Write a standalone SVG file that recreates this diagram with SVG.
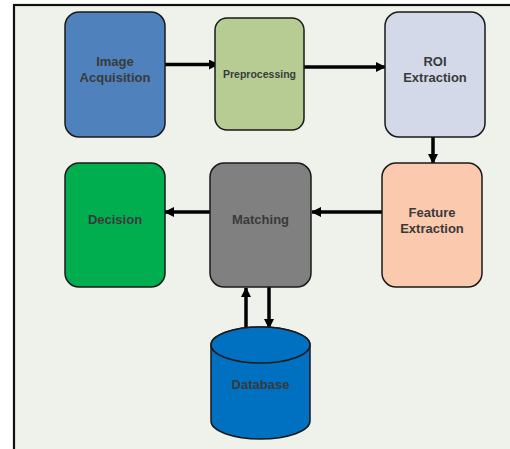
<svg xmlns="http://www.w3.org/2000/svg" width="510" height="449" viewBox="0 0 510 449">
<style>
.box{stroke:#1a1a1a;stroke-width:1.5}
.t{font-family:"Liberation Sans",Arial,sans-serif;font-weight:bold;font-size:13px;fill:#3a3a3a;text-anchor:middle}
.c{stroke:#000;stroke-width:3.5;fill:none;marker-end:url(#ah)}
</style>
<defs>
<marker id="ah" markerWidth="10" markerHeight="10" viewBox="0 0 10 10" refX="9" refY="5" markerUnits="userSpaceOnUse" orient="auto">
<path d="M0,0 L10,5 L0,10 Z" fill="#000"/>
</marker>
</defs>
<rect x="0" y="0" width="510" height="449" fill="#ffffff"/>
<rect x="14" y="5" width="510" height="460" fill="#eff2ea" stroke="#111" stroke-width="2.2"/>
<g id="connectors">
<line class="c" x1="165" y1="64.5" x2="218" y2="64.5"/>
<line class="c" x1="304" y1="67" x2="385" y2="67"/>
<line class="c" x1="433" y1="137" x2="433" y2="163"/>
<line class="c" x1="382" y1="212" x2="312" y2="212"/>
<line class="c" x1="210" y1="212" x2="165" y2="212"/>
<line class="c" x1="246" y1="327" x2="246" y2="288"/>
<line class="c" x1="269" y1="287" x2="269" y2="328"/>
</g>
<g id="image-acquisition">
<rect class="box" x="65" y="12" width="100" height="125" rx="14" fill="#4f81bd"/>
<text class="t" x="115" y="66">Image</text>
<text class="t" x="115" y="82">Acquisition</text>
</g>
<g id="preprocessing">
<rect class="box" x="215" y="18" width="89" height="112" rx="12" fill="#b6cc92"/>
<text class="t" x="259.5" y="78" style="font-size:10.5px">Preprocessing</text>
</g>
<g id="roi-extraction">
<rect class="box" x="385" y="12" width="100" height="125" rx="14" fill="#d3d9e8"/>
<text class="t" x="435" y="66">ROI</text>
<text class="t" x="435" y="82">Extraction</text>
</g>
<g id="feature-extraction">
<rect class="box" x="382" y="163" width="100" height="124" rx="14" fill="#fbc9ad"/>
<text class="t" x="432" y="217">Feature</text>
<text class="t" x="432" y="233">Extraction</text>
</g>
<g id="matching">
<rect class="box" x="210" y="163" width="101" height="124" rx="14" fill="#808080"/>
<text class="t" x="260.5" y="224">Matching</text>
</g>
<g id="decision">
<rect class="box" x="65" y="163" width="100" height="124" rx="14" fill="#00ae50"/>
<text class="t" x="115" y="224">Decision</text>
</g>
<g id="database">
<path class="box" d="M211,345 L211,421 A49.5,18 0 0 0 310,421 L310,345 A49.5,18 0 0 0 211,345 Z" fill="#0070c0"/>
<ellipse class="box" cx="260.5" cy="345" rx="49.5" ry="18" fill="#0070c0"/>
<text class="t" x="260.5" y="389">Database</text>
</g>
</svg>
